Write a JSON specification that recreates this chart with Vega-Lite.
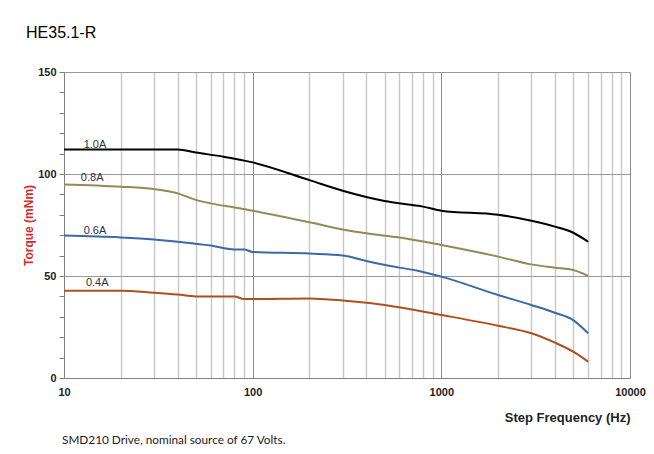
{
  "$schema": "https://vega.github.io/schema/vega-lite/v6.json",
  "autosize": "none",
  "width": 566,
  "height": 306,
  "padding": {"left": 64, "top": 72, "right": 24, "bottom": 76},
  "background": "white",
  "title": {"text": "HE35.1-R", "anchor": "start", "frame": "group", "dx": -38, "offset": 12, "fontSize": 16, "fontWeight": "normal", "font": "Liberation Sans", "color": "#000000", "baseline": "alphabetic"},
  "config": {
    "view": {"stroke": null},
    "font": "Liberation Sans",
    "axisX": {
      "labelFlush": false, "labelOverlap": false,
      "labelFont": "Liberation Sans", "labelFontSize": 11, "labelFontWeight": "bold", "labelColor": "#222222",
      "labelPadding": 8, "ticks": false,
      "domainColor": "#808080", "domainWidth": 1,
      "titleFont": "Liberation Sans", "titleFontSize": 13, "titleFontWeight": "bold", "titleColor": "#222222",
      "titleAnchor": "end", "titlePadding": 14
    },
    "axisY": {
      "labelFlush": false, "labelOverlap": false,
      "labelFont": "Liberation Sans", "labelFontSize": 11, "labelFontWeight": "bold", "labelColor": "#222222",
      "labelPadding": 3, "tickSize": 5, "tickColor": "#808080",
      "domainColor": "#808080",
      "titleFont": "Liberation Sans", "titleFontSize": 12, "titleFontWeight": "bold", "titleColor": "#d22f2f",
      "titlePadding": 2
    }
  },
  "datasets": {
    "curves": [
      {"current": "1.0A", "freq": 10, "torque": 112},
      {"current": "1.0A", "freq": 20, "torque": 112},
      {"current": "1.0A", "freq": 30, "torque": 112},
      {"current": "1.0A", "freq": 40, "torque": 112},
      {"current": "1.0A", "freq": 50, "torque": 110.5},
      {"current": "1.0A", "freq": 70, "torque": 108.5},
      {"current": "1.0A", "freq": 100, "torque": 105.7},
      {"current": "1.0A", "freq": 200, "torque": 97},
      {"current": "1.0A", "freq": 300, "torque": 91.8},
      {"current": "1.0A", "freq": 500, "torque": 86.8},
      {"current": "1.0A", "freq": 700, "torque": 84.8},
      {"current": "1.0A", "freq": 800, "torque": 84},
      {"current": "1.0A", "freq": 1000, "torque": 82},
      {"current": "1.0A", "freq": 2000, "torque": 80},
      {"current": "1.0A", "freq": 3000, "torque": 77.1},
      {"current": "1.0A", "freq": 4000, "torque": 74.2},
      {"current": "1.0A", "freq": 5000, "torque": 71.2},
      {"current": "1.0A", "freq": 6000, "torque": 66.8},
      {"current": "0.8A", "freq": 10, "torque": 94.9},
      {"current": "0.8A", "freq": 20, "torque": 93.8},
      {"current": "0.8A", "freq": 30, "torque": 92.6},
      {"current": "0.8A", "freq": 40, "torque": 90.5},
      {"current": "0.8A", "freq": 50, "torque": 87.3},
      {"current": "0.8A", "freq": 60, "torque": 85.6},
      {"current": "0.8A", "freq": 80, "torque": 83.6},
      {"current": "0.8A", "freq": 100, "torque": 82},
      {"current": "0.8A", "freq": 200, "torque": 76.3},
      {"current": "0.8A", "freq": 300, "torque": 72.8},
      {"current": "0.8A", "freq": 400, "torque": 70.9},
      {"current": "0.8A", "freq": 600, "torque": 68.9},
      {"current": "0.8A", "freq": 1000, "torque": 65.2},
      {"current": "0.8A", "freq": 2000, "torque": 59.5},
      {"current": "0.8A", "freq": 3000, "torque": 55.7},
      {"current": "0.8A", "freq": 4000, "torque": 54.1},
      {"current": "0.8A", "freq": 5000, "torque": 52.9},
      {"current": "0.8A", "freq": 6000, "torque": 50},
      {"current": "0.6A", "freq": 10, "torque": 69.8},
      {"current": "0.6A", "freq": 20, "torque": 68.9},
      {"current": "0.6A", "freq": 30, "torque": 67.9},
      {"current": "0.6A", "freq": 40, "torque": 66.8},
      {"current": "0.6A", "freq": 60, "torque": 64.9},
      {"current": "0.6A", "freq": 80, "torque": 63},
      {"current": "0.6A", "freq": 90, "torque": 63},
      {"current": "0.6A", "freq": 100, "torque": 61.8},
      {"current": "0.6A", "freq": 200, "torque": 61},
      {"current": "0.6A", "freq": 300, "torque": 60.1},
      {"current": "0.6A", "freq": 400, "torque": 57.4},
      {"current": "0.6A", "freq": 600, "torque": 54.1},
      {"current": "0.6A", "freq": 750, "torque": 52.6},
      {"current": "0.6A", "freq": 1000, "torque": 49.7},
      {"current": "0.6A", "freq": 2000, "torque": 40.7},
      {"current": "0.6A", "freq": 3000, "torque": 35.8},
      {"current": "0.6A", "freq": 4000, "torque": 32},
      {"current": "0.6A", "freq": 5000, "torque": 28.4},
      {"current": "0.6A", "freq": 6000, "torque": 21.9},
      {"current": "0.4A", "freq": 10, "torque": 42.8},
      {"current": "0.4A", "freq": 20, "torque": 42.8},
      {"current": "0.4A", "freq": 30, "torque": 41.8},
      {"current": "0.4A", "freq": 40, "torque": 40.9},
      {"current": "0.4A", "freq": 50, "torque": 40},
      {"current": "0.4A", "freq": 80, "torque": 40},
      {"current": "0.4A", "freq": 90, "torque": 38.7},
      {"current": "0.4A", "freq": 100, "torque": 38.7},
      {"current": "0.4A", "freq": 200, "torque": 39},
      {"current": "0.4A", "freq": 300, "torque": 38},
      {"current": "0.4A", "freq": 500, "torque": 35.8},
      {"current": "0.4A", "freq": 1000, "torque": 30.9},
      {"current": "0.4A", "freq": 2000, "torque": 25.6},
      {"current": "0.4A", "freq": 3000, "torque": 21.9},
      {"current": "0.4A", "freq": 4000, "torque": 17.3},
      {"current": "0.4A", "freq": 5000, "torque": 12.9},
      {"current": "0.4A", "freq": 6000, "torque": 8}
    ],
    "labels": [
      {"current": "1.0A", "freq": 14.6, "torque": 114.2},
      {"current": "0.8A", "freq": 14.1, "torque": 98.0},
      {"current": "0.6A", "freq": 14.6, "torque": 72.1},
      {"current": "0.4A", "freq": 15.0, "torque": 46.6}
    ],
    "notes": [
      {"note": "SMD210  Drive, nominal source of 67 Volts."}
    ]
  },
  "layer": [
    {
      "data": {"name": "curves"},
      "mark": {"type": "line", "strokeWidth": 2, "interpolate": "monotone"},
      "encoding": {
        "x": {
          "field": "freq", "type": "quantitative",
          "scale": {"type": "log", "domain": [10, 10000], "nice": false},
          "axis": {
            "title": "Step Frequency (Hz)",
            "values": [10,20,30,40,50,60,70,80,90,100,200,300,400,500,600,700,800,900,1000,2000,3000,4000,5000,6000,7000,8000,9000,10000],
            "labelExpr": "datum.value==10||datum.value==100||datum.value==1000||datum.value==10000 ? format(datum.value,'d') : ''",
            "grid": true,
            "gridColor": {"condition": {"test": "datum.value==10||datum.value==100||datum.value==1000||datum.value==10000", "value": "#8c8c8c"}, "value": "#c8c8c8"},
            "gridWidth": {"condition": {"test": "datum.value==10||datum.value==100||datum.value==1000||datum.value==10000", "value": 1}, "value": 1.4}
          }
        },
        "y": {
          "field": "torque", "type": "quantitative",
          "scale": {"domain": [0, 150], "nice": false},
          "axis": {
            "title": "Torque (mNm)",
            "values": [0,10,20,30,40,50,60,70,80,90,100,110,120,130,140,150],
            "labelExpr": "datum.value==0||datum.value==50||datum.value==100||datum.value==150 ? datum.label : ''",
            "grid": true,
            "gridColor": "#999999",
            "gridWidth": 1.2,
            "gridOpacity": {"condition": {"test": "datum.value==50||datum.value==100||datum.value==150", "value": 1}, "value": 0}
          }
        },
        "color": {
          "field": "current", "type": "nominal",
          "scale": {"domain": ["1.0A", "0.8A", "0.6A", "0.4A"], "range": ["#000000", "#948a54", "#3a6aa6", "#b04f1d"]},
          "legend": null
        }
      }
    },
    {
      "data": {"name": "labels"},
      "mark": {"type": "text", "font": "Liberation Sans", "fontSize": 11, "color": "#333333", "align": "center", "baseline": "middle"},
      "encoding": {
        "x": {
          "field": "freq", "type": "quantitative",
          "scale": {"type": "log", "domain": [10, 10000], "nice": false},
          "axis": {
            "title": "Step Frequency (Hz)",
            "values": [10,20,30,40,50,60,70,80,90,100,200,300,400,500,600,700,800,900,1000,2000,3000,4000,5000,6000,7000,8000,9000,10000],
            "labelExpr": "datum.value==10||datum.value==100||datum.value==1000||datum.value==10000 ? format(datum.value,'d') : ''",
            "grid": true,
            "gridColor": {"condition": {"test": "datum.value==10||datum.value==100||datum.value==1000||datum.value==10000", "value": "#8c8c8c"}, "value": "#c8c8c8"},
            "gridWidth": {"condition": {"test": "datum.value==10||datum.value==100||datum.value==1000||datum.value==10000", "value": 1}, "value": 1.4}
          }
        },
        "y": {
          "field": "torque", "type": "quantitative",
          "scale": {"domain": [0, 150], "nice": false},
          "axis": {
            "title": "Torque (mNm)",
            "values": [0,10,20,30,40,50,60,70,80,90,100,110,120,130,140,150],
            "labelExpr": "datum.value==0||datum.value==50||datum.value==100||datum.value==150 ? datum.label : ''",
            "grid": true,
            "gridColor": "#999999",
            "gridWidth": 1.2,
            "gridOpacity": {"condition": {"test": "datum.value==50||datum.value==100||datum.value==150", "value": 1}, "value": 0}
          }
        },
        "text": {"field": "current"}
      }
    },
    {
      "data": {"name": "notes"},
      "mark": {"type": "text", "font": "Lato", "fontSize": 11.8, "color": "#222222", "align": "left", "baseline": "middle", "dx": -2},
      "encoding": {
        "x": {
          "datum": 10, "type": "quantitative",
          "scale": {"type": "log", "domain": [10, 10000], "nice": false},
          "axis": {
            "title": "Step Frequency (Hz)",
            "values": [10,20,30,40,50,60,70,80,90,100,200,300,400,500,600,700,800,900,1000,2000,3000,4000,5000,6000,7000,8000,9000,10000],
            "labelExpr": "datum.value==10||datum.value==100||datum.value==1000||datum.value==10000 ? format(datum.value,'d') : ''",
            "grid": true,
            "gridColor": {"condition": {"test": "datum.value==10||datum.value==100||datum.value==1000||datum.value==10000", "value": "#8c8c8c"}, "value": "#c8c8c8"},
            "gridWidth": {"condition": {"test": "datum.value==10||datum.value==100||datum.value==1000||datum.value==10000", "value": 1}, "value": 1.4}
          }
        },
        "y": {
          "datum": -30.4, "type": "quantitative",
          "scale": {"domain": [0, 150], "nice": false},
          "axis": {
            "title": "Torque (mNm)",
            "values": [0,10,20,30,40,50,60,70,80,90,100,110,120,130,140,150],
            "labelExpr": "datum.value==0||datum.value==50||datum.value==100||datum.value==150 ? datum.label : ''",
            "grid": true,
            "gridColor": "#999999",
            "gridWidth": 1.2,
            "gridOpacity": {"condition": {"test": "datum.value==50||datum.value==100||datum.value==150", "value": 1}, "value": 0}
          }
        },
        "text": {"field": "note"}
      }
    }
  ]
}
